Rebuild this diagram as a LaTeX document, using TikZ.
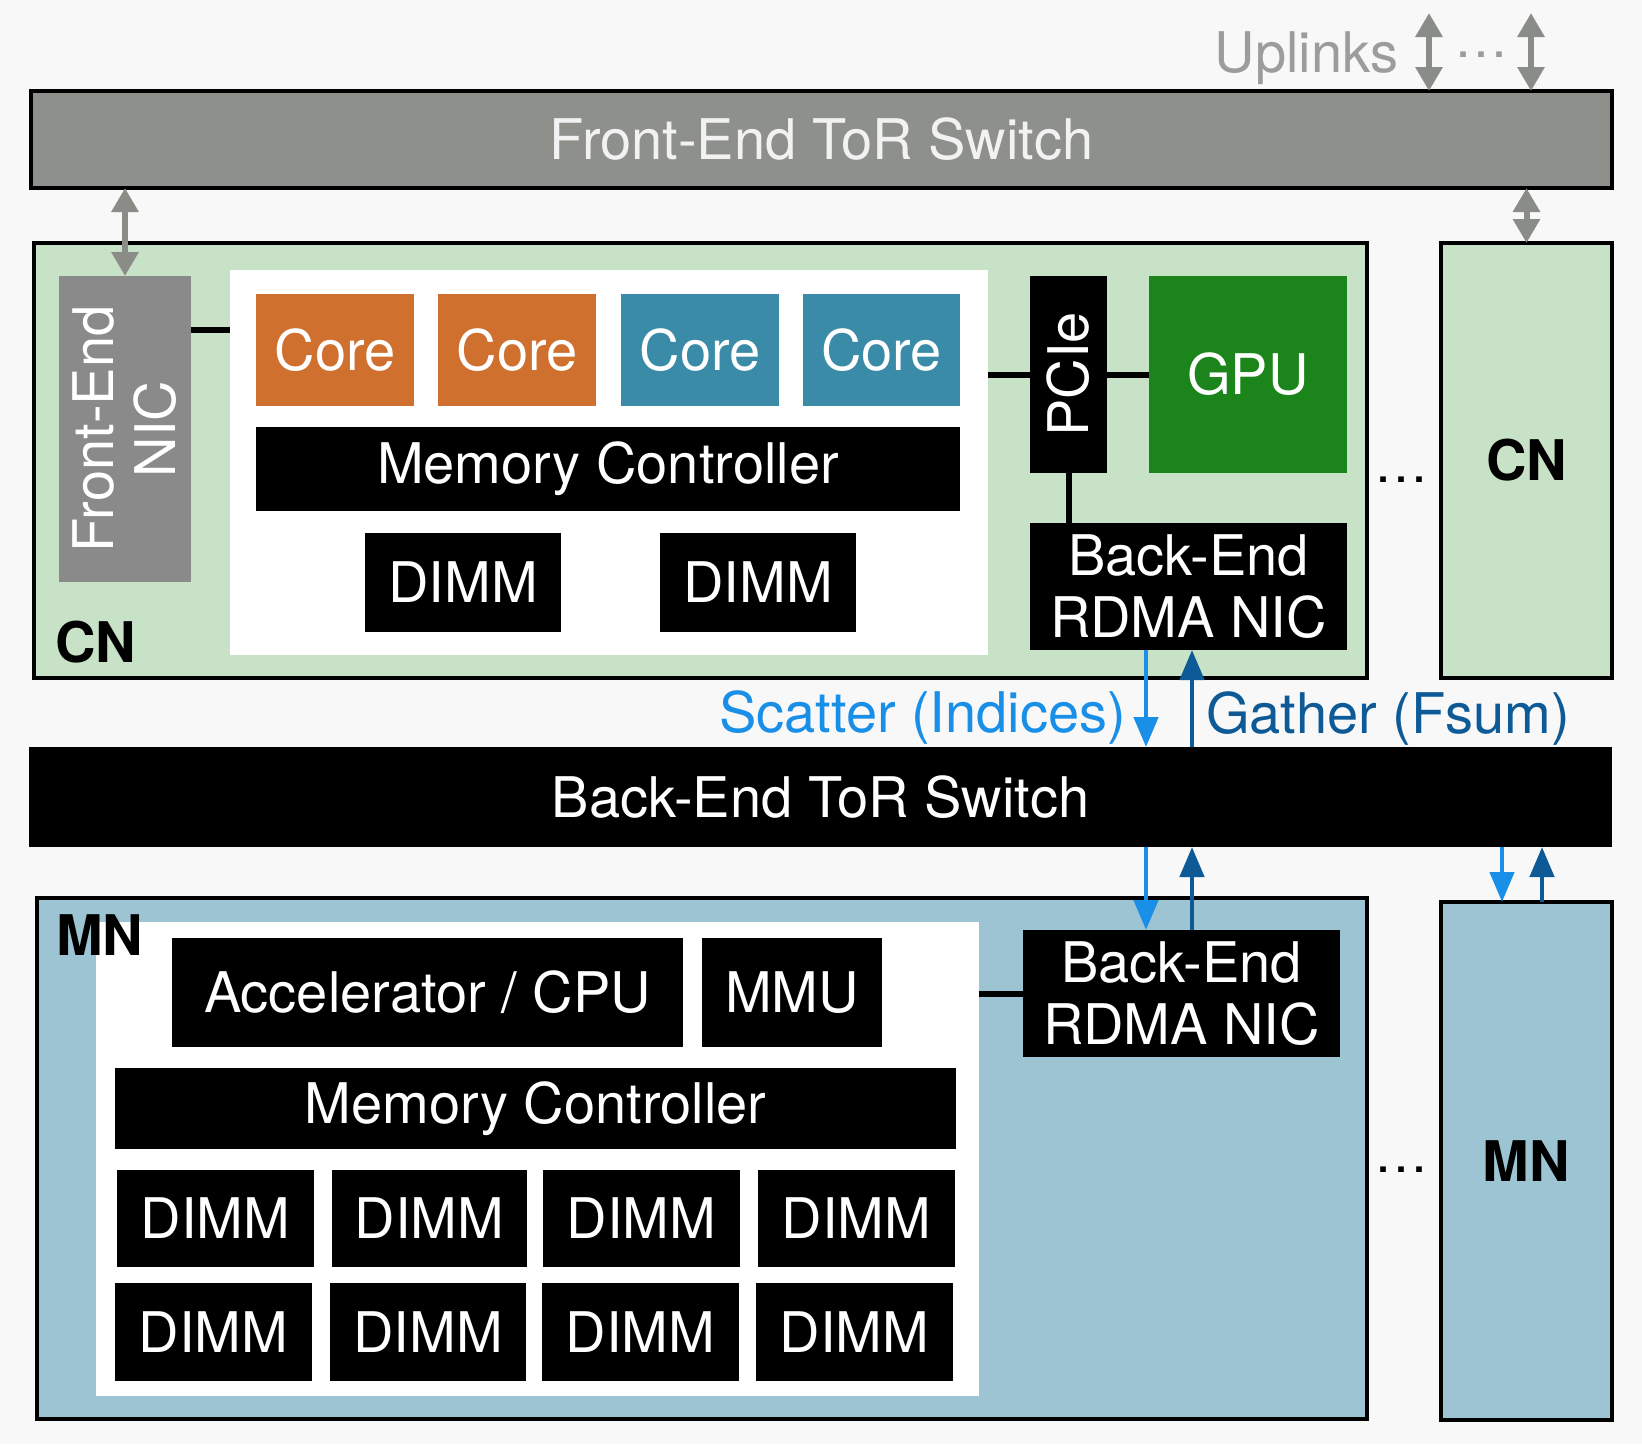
\documentclass[tikz,border=0pt]{standalone}
\usepackage{fontspec}
\setmainfont{TeX Gyre Heros}
\usetikzlibrary{arrows.meta,calc}
\definecolor{bgc}{HTML}{F8F8F8}
\definecolor{fegray}{HTML}{8E908C}
\definecolor{nicgray}{HTML}{8A8A8A}
\definecolor{cngreen}{HTML}{C8E2C8}
\definecolor{mnblue}{HTML}{9CC4D2}
\definecolor{coreorange}{HTML}{D0702F}
\definecolor{coreteal}{HTML}{3A8BA8}
\definecolor{gpugreen}{HTML}{1B841B}
\definecolor{lblue}{HTML}{1A8FE8}
\definecolor{dblue}{HTML}{0D5A96}
\definecolor{uptext}{HTML}{9C9C9C}
\definecolor{arrgray}{HTML}{8A8C88}
\newcommand\bx[7]{%
  \pgfmathsetmacro\myBW{#4-#2}\pgfmathsetmacro\myBH{#5-#3}%
  \node[#6, minimum width=\myBW pt, minimum height=\myBH pt] (#1) at ({(#2+#4)/2},{(#3+#5)/2}) {#7};}
\begin{document}
\begin{tikzpicture}[x=1pt,y=-1pt,
  base/.style={inner sep=0pt, outer sep=0pt, font=\fontsize{56}{62}\selectfont, align=center},
  blk/.style={base, fill=black, text=white},
  frame/.style={base, draw=black, line width=4pt},
  corebox/.style={base, text=white},
  lbl/.style={inner sep=0pt, font=\fontsize{56}{62}\selectfont\bfseries},
  conn/.style={line width=6pt, black},
  gdbl/.style={line width=6pt, arrgray, {Triangle[width=26pt,length=24pt]}-{Triangle[width=26pt,length=24pt]}},
  sarr/.style={line width=4.5pt, lblue, -{Triangle[width=24pt,length=30pt]}},
  garr/.style={line width=4.5pt, dblue, -{Triangle[width=24pt,length=30pt]}},
  dots/.style={inner sep=0pt, font=\fontsize{54}{62}\selectfont}
]
\fill[bgc] (0,0) rectangle (1642,1444);
\useasboundingbox (0,0) rectangle (1642,1444);

% Front-end switch
\bx{fesw}{31}{91}{1612}{188}{frame, fill=fegray, text=white!95!black}{Front-End ToR Switch}
\node[base, text=uptext, anchor=base east] (uplinks) at (1398,72) {Uplinks};
\coordinate (up1) at (1429,13);
\coordinate (up2) at (1531,13);
\draw[gdbl] (up1) -- (up1 |- fesw.north);
\draw[gdbl] (up2) -- (up2 |- fesw.north);
\node[dots, text=uptext, anchor=base] (updots) at (1481,57) {\ldots};

% CN main
\bx{cn}{34}{243}{1367}{678}{frame, fill=cngreen}{}
\bx{cninner}{230}{270}{988}{655}{base, fill=white}{}
\bx{fenic}{59}{276}{191}{582}{base, fill=nicgray}{}
\node[base, text=white, rotate=90] (fenictext) at (fenic.center) {Front-End\\NIC};
\bx{core1}{256}{294}{414}{406}{corebox, fill=coreorange}{Core}
\bx{core2}{438}{294}{596}{406}{corebox, fill=coreorange}{Core}
\bx{core3}{621}{294}{779}{406}{corebox, fill=coreteal}{Core}
\bx{core4}{803}{294}{960}{406}{corebox, fill=coreteal}{Core}
\bx{cnmc}{256}{427}{960}{511}{blk}{Memory Controller}
\bx{cndimm1}{365}{533}{561}{632}{blk}{DIMM}
\bx{cndimm2}{660}{533}{856}{632}{blk}{DIMM}
\bx{pcie}{1030}{276}{1107}{473}{blk}{}
\node[base, text=white, rotate=90] (pcietext) at (pcie.center) {PCIe};
\bx{gpu}{1149}{276}{1347}{473}{base, fill=gpugreen, text=white}{GPU}
\bx{cnnic}{1030}{523}{1347}{650}{blk}{Back-End\\RDMA NIC}
\node[lbl, anchor=base west] (cnlabel) at (55,662) {CN};
\coordinate (nicport) at ($(fenic.north east)!0.175!(fenic.south east)$);
\draw[conn] (nicport) -- (nicport -| cninner.west);
\draw[conn] (pcie.west -| cninner.east) -- (pcie.west);
\draw[conn] (pcie.east) -- (gpu.west);
\draw[conn] (pcie.south) -- (pcie.south |- cnnic.north);
\node[dots, anchor=base] (cndots) at (1401,482) {\ldots};

% right CN
\bx{cn2}{1441}{243}{1612}{678}{frame, fill=cngreen}{}
\node[lbl] (cn2label) at (cn2.center) {CN};

\draw[gdbl] (fesw.south -| fenic.north) -- (fenic.north);
\draw[gdbl] (fesw.south -| cn2.north) -- (cn2.north);

% back-end switch
\bx{besw}{29}{747}{1612}{847}{blk}{Back-End ToR Switch}

% MN main
\bx{mn}{37}{898}{1367}{1419}{frame, fill=mnblue}{}
\bx{mninner}{96}{922}{979}{1396}{base, fill=white}{}
\bx{acc}{172}{938}{683}{1047}{blk}{Accelerator / CPU}
\bx{mmu}{702}{938}{882}{1047}{blk}{MMU}
\bx{mnmc}{115}{1068}{956}{1149}{blk}{Memory Controller}
\bx{d11}{117}{1170}{314}{1267}{blk}{DIMM}
\bx{d12}{332}{1170}{527}{1267}{blk}{DIMM}
\bx{d13}{543}{1170}{740}{1267}{blk}{DIMM}
\bx{d14}{758}{1170}{955}{1267}{blk}{DIMM}
\bx{d21}{115}{1283}{312}{1381}{blk}{DIMM}
\bx{d22}{330}{1283}{526}{1381}{blk}{DIMM}
\bx{d23}{542}{1283}{739}{1381}{blk}{DIMM}
\bx{d24}{756}{1283}{953}{1381}{blk}{DIMM}
\bx{mnnic}{1023}{930}{1340}{1057}{blk}{Back-End\\RDMA NIC}
\node[lbl, anchor=base west] (mnlabel) at (56,955) {MN};
\draw[conn] (mnnic.west -| mninner.east) -- (mnnic.west);
\node[dots, anchor=base] (mndots) at (1401,1172) {\ldots};

% right MN
\bx{mn2}{1441}{902}{1612}{1420}{frame, fill=mnblue}{}
\node[lbl] (mn2label) at (mn2.center) {MN};

% scatter / gather arrows
\coordinate (sx) at (1146,0);
\coordinate (gx) at (1192,0);
\coordinate (sx2) at (1502,0);
\coordinate (gx2) at (1542,0);
\draw[sarr] (sx |- cnnic.south) -- (sx |- besw.north);
\draw[garr] (gx |- besw.north) -- (gx |- cnnic.south);
\draw[sarr] (sx |- besw.south) -- (sx |- mnnic.north);
\draw[garr] (gx |- mnnic.north) -- (gx |- besw.south);
\draw[sarr] (sx2 |- besw.south) -- (sx2 |- mn2.north);
\draw[garr] (gx2 |- mn2.north) -- (gx2 |- besw.south);
\node[base, text=lblue, anchor=base east] (scatter) at (1126,732) {Scatter (Indices)};
\node[base, text=dblue, anchor=base west] (gather) at (1206,733) {Gather (Fsum)};
\end{tikzpicture}
\end{document}
